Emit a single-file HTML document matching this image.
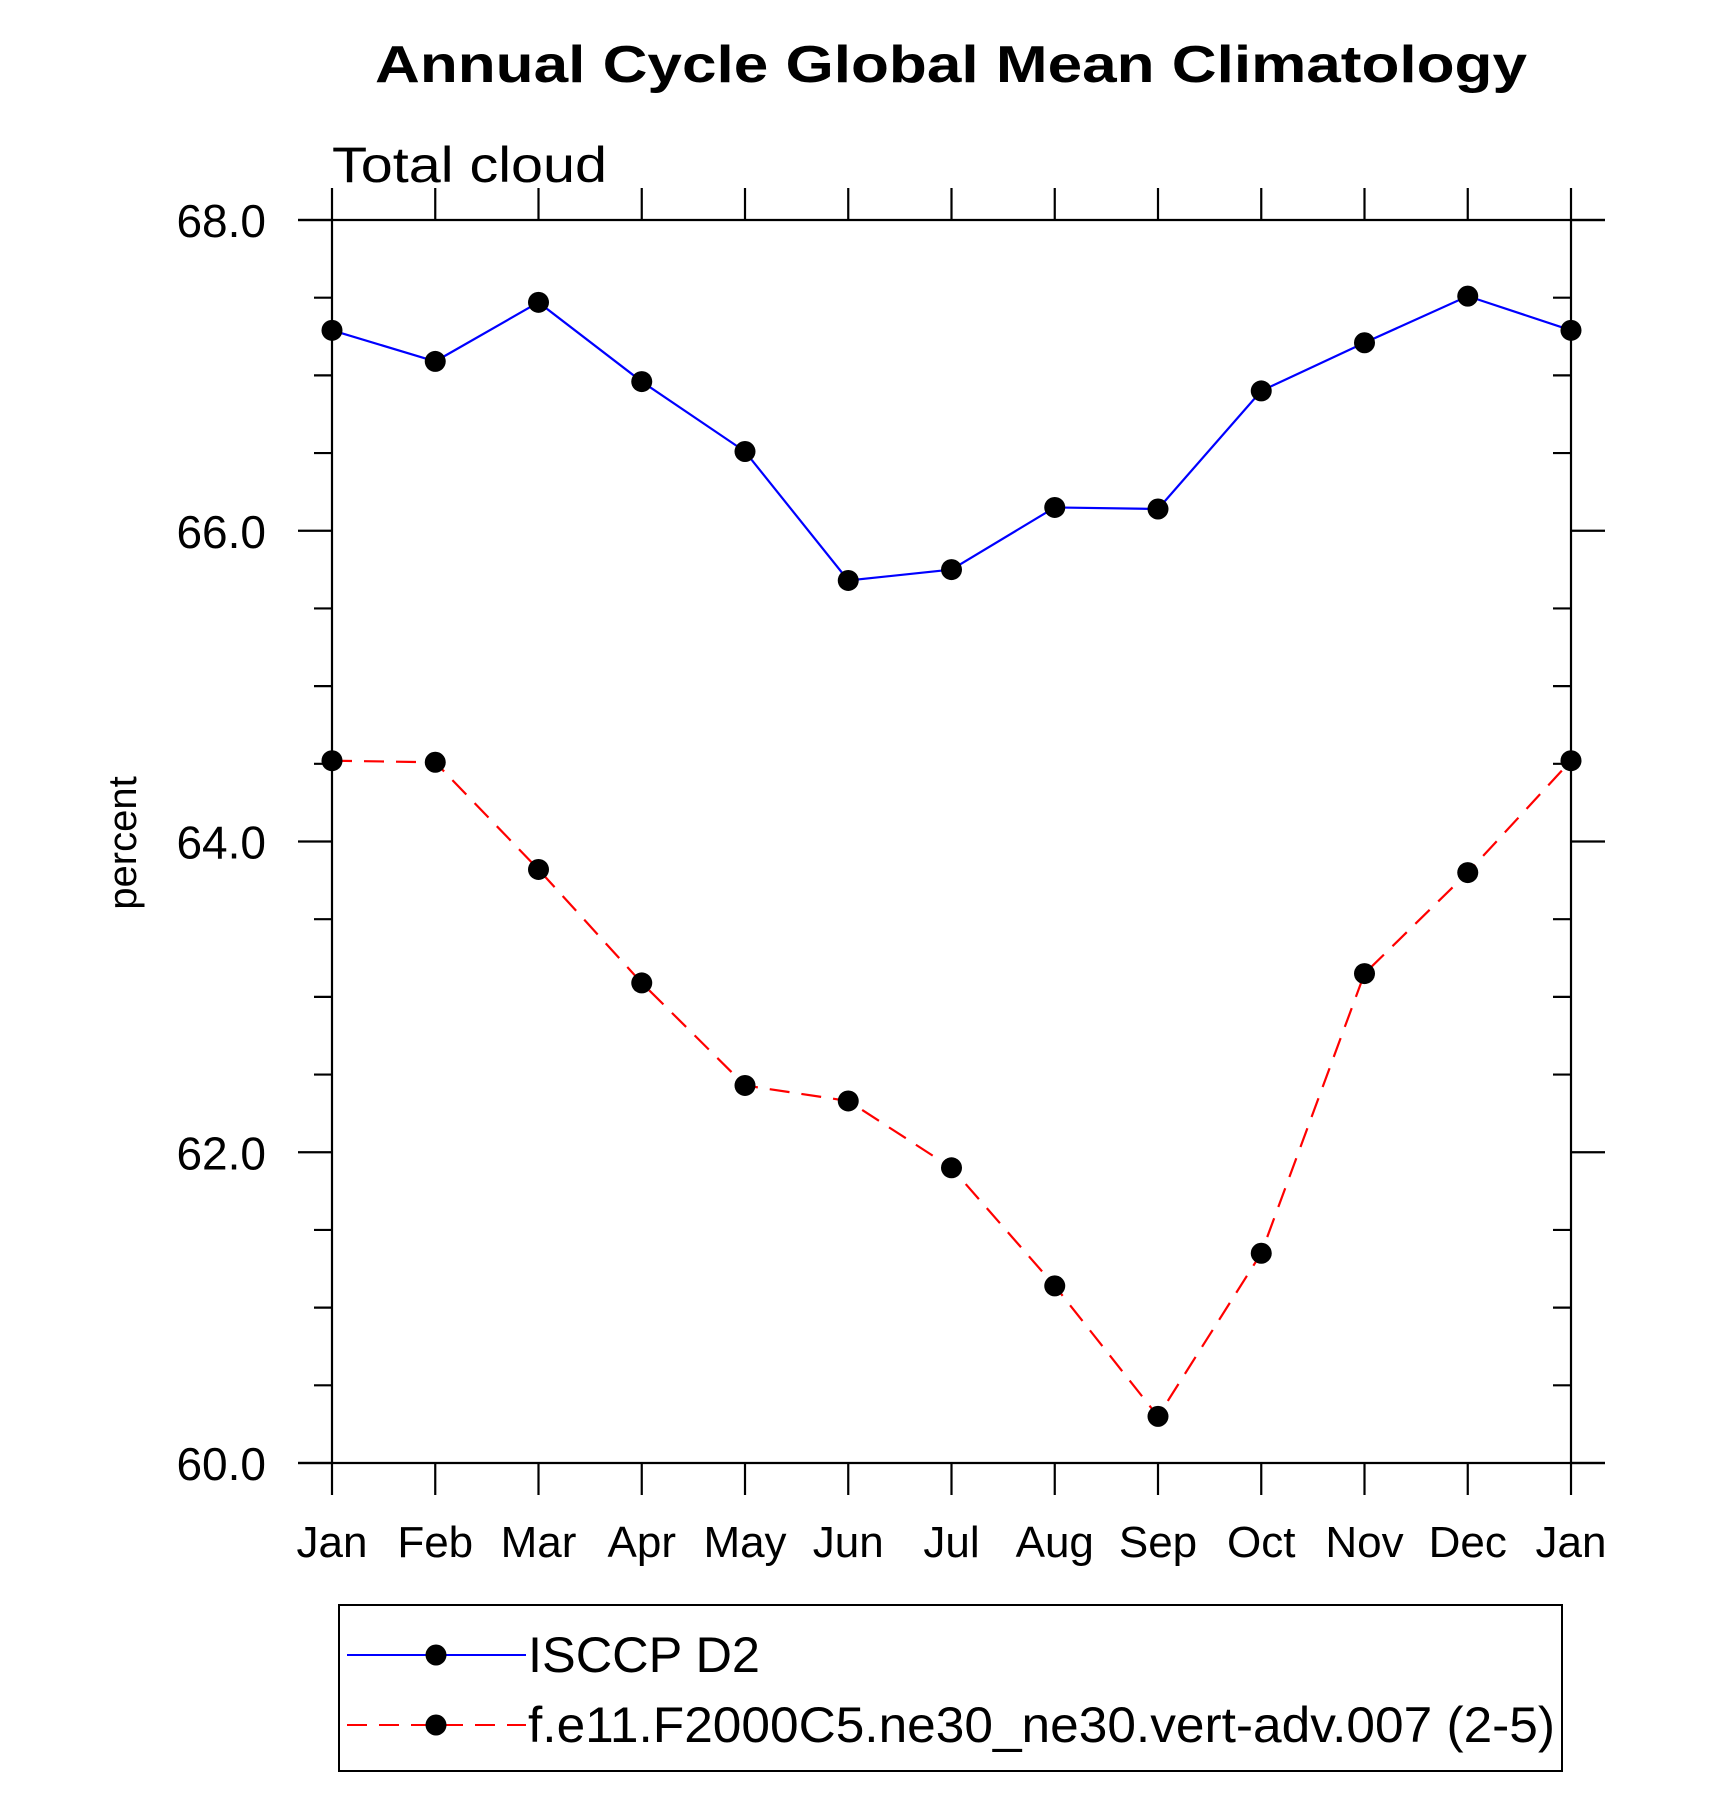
<!DOCTYPE html>
<html><head><meta charset="utf-8"><style>html,body{margin:0;padding:0;background:#fff}svg{display:block}</style></head>
<body>
<svg id="chart" width="1710" height="1813" xmlns="http://www.w3.org/2000/svg" font-family="Liberation Sans, sans-serif">
<text x="951" y="82" font-size="52" font-weight="bold" text-anchor="middle" textLength="1152" lengthAdjust="spacingAndGlyphs">Annual Cycle Global Mean Climatology</text>
<text x="332" y="182" font-size="50" textLength="275" lengthAdjust="spacingAndGlyphs">Total cloud</text>
<text transform="translate(136,843) rotate(-90)" font-size="40" text-anchor="middle">percent</text>
<g id="axes"></g>
<g id="series"></g>
<g>
<rect x="339" y="1605" width="1223" height="166" fill="none" stroke="#000" stroke-width="2"/>
<line x1="347" y1="1655" x2="526" y2="1655" stroke="#0000ff" stroke-width="2"/>
<circle cx="436" cy="1655" r="10.5" fill="#000"/>
<text x="528" y="1672" font-size="50" textLength="232" lengthAdjust="spacingAndGlyphs">ISCCP D2</text>
<line x1="347" y1="1725" x2="526" y2="1725" stroke="#ff0000" stroke-width="2" stroke-dasharray="20,12"/>
<circle cx="436" cy="1725" r="10.5" fill="#000"/>
<text x="528" y="1742" font-size="50" textLength="1027" lengthAdjust="spacingAndGlyphs">f.e11.F2000C5.ne30_ne30.vert-adv.007 (2-5)</text>
</g>
</svg>
<script>
const months = ["Jan","Feb","Mar","Apr","May","Jun","Jul","Aug","Sep","Oct","Nov","Dec","Jan"];
const isccpValues = [67.29,67.09,67.47,66.96,66.51,65.68,65.75,66.15,66.14,66.90,67.21,67.51,67.29];
const modelValues = [64.52,64.51,63.82,63.09,62.43,62.33,61.90,61.14,60.30,61.35,63.15,63.80,64.52];
const yTickValues = [60,62,64,66,68];
const yTickLabels = ["60.0","62.0","64.0","66.0","68.0"];

const NS="http://www.w3.org/2000/svg";
const X0=332, X1=1571, Y0=220, Y1=1463, YMIN=60, YMAX=68;
function xs(i){return X0+(X1-X0)*i/(months.length-1);}
function ys(v){return Y1-(v-YMIN)/(YMAX-YMIN)*(Y1-Y0);}
function mk(tag,attrs,parent){const e=document.createElementNS(NS,tag);for(const k in attrs)e.setAttribute(k,attrs[k]);parent.appendChild(e);return e;}
const axes=document.getElementById('axes');
const S={stroke:"#000","stroke-width":2.2};
let e;
e=mk('line',Object.assign({x1:X0,y1:Y0,x2:X0,y2:Y1},S),axes);


e=mk('line',Object.assign({x1:X1,y1:Y0,x2:X1,y2:Y1},S),axes);


e=mk('line',Object.assign({x1:X0-34,y1:Y0,x2:X1+34,y2:Y0},S),axes);


e=mk('line',Object.assign({x1:X0-34,y1:Y1,x2:X1+34,y2:Y1},S),axes);


for(let v=YMIN; v<=YMAX+0.001; v+=0.5){
  const y=ys(v); const major=Math.abs(v-Math.round(v/2)*2)<0.001;
  e=mk('line',Object.assign({x1:X0-(major?34:18),y1:y,x2:X0,y2:y},S),axes);
  
  
  e=mk('line',Object.assign({x1:X1,y1:y,x2:X1+(major?34:-18),y2:y},S),axes);
  
  
}
yTickValues.forEach((v,i)=>{
  e=mk('text',{x:X0-66,y:ys(v)+17,"font-size":46,"text-anchor":"end"},axes);
  e.textContent=yTickLabels[i];
  
  
});
months.forEach((m,i)=>{
  const x=xs(i);
  e=mk('line',Object.assign({x1:x,y1:Y0-32,x2:x,y2:Y0},S),axes);
  
  
  e=mk('line',Object.assign({x1:x,y1:Y1,x2:x,y2:Y1+32},S),axes);
  
  
  e=mk('text',{x:x,y:1557,"font-size":44,"text-anchor":"middle"},axes);
  e.textContent=m;
  
  
});
const series=document.getElementById('series');
function draw(vals,color,dash,name){
  const pts=vals.map((v,i)=>xs(i)+","+ys(v)).join(" ");
  const a={points:pts,fill:"none",stroke:color,"stroke-width":2.2};
  if(dash)a["stroke-dasharray"]=dash;
  e=mk('polyline',a,series);
  
  
  vals.forEach((v,i)=>{
    e=mk('circle',{cx:xs(i),cy:ys(v),r:10.5,fill:"#000"},series);
    
    
  });
}
draw(isccpValues,"#0000ff",null,"isccp-d2");
draw(modelValues,"#ff0000","20,12","model");
</script>
</body></html>
